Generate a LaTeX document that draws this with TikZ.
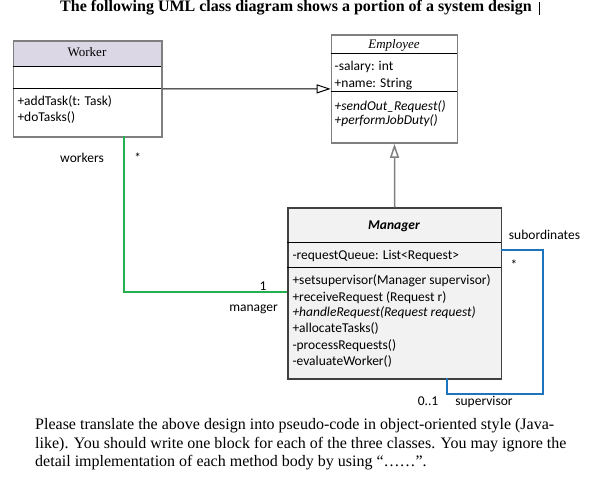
\documentclass[tikz,border=0pt]{standalone}
\usepackage{fontspec}
\setmainfont{Liberation Serif}
\newfontfamily\calfont{Carlito}
\usetikzlibrary{arrows.meta}
\definecolor{boxgray}{HTML}{7F7F7F}
\definecolor{lav}{HTML}{DCD7E4}
\definecolor{mgrfill}{HTML}{F2F2F2}
\definecolor{umlgreen}{HTML}{22B14C}
\definecolor{umlblue}{HTML}{1C75BC}
\definecolor{gengray}{HTML}{808080}
\begin{document}
\begin{tikzpicture}[x=1pt,y=-1pt,
  classbox/.style={draw=boxgray, line width=1.5pt, inner sep=0pt, anchor=north west},
  sepline/.style={draw=black, line width=1pt},
  mem/.style={font=\calfont\fontsize{13.5}{15}\selectfont, anchor=base west, inner sep=0pt},
  memit/.style={mem, font=\calfont\itshape\fontsize{13.5}{15}\selectfont},
  lbl/.style={font=\calfont\fontsize{13.5}{15}\selectfont, anchor=base, inner sep=0pt},
  serifhead/.style={font=\fontsize{13}{15}\selectfont, anchor=base, inner sep=0pt},
  para/.style={font=\fontsize{16}{18}\selectfont, anchor=base west, inner sep=0pt},
  genarrow/.style={-{Triangle[open,length=14pt,width=9pt,fill=white]}},
  greenline/.style={draw=umlgreen, line width=2pt},
  blueline/.style={draw=umlblue, line width=2pt}]
\useasboundingbox (0,0) rectangle (607,499);
\fill[white] (0,0) rectangle (607,499);

% title
\node[font=\bfseries\fontsize{16}{18}\selectfont, anchor=base, inner sep=0pt] (title) at (296,11) {The following UML class diagram shows a portion of a system design};
\draw[line width=0.8pt] (539,2) -- (539,14.5);

% Worker
\fill[lav] (12.7,40) rectangle (161,66.7);
\node[classbox, minimum width=148.3pt, minimum height=96pt] (worker) at (12.7,40) {};
\draw[sepline] (12.7,66.7) -- (161,66.7);
\draw[sepline] (12.7,88.3) -- (161,88.3);
\node[serifhead] (wname) at (87,56.5) {Worker};
\node[mem] (w1) at (17.3,105.5) {+addTask(t: Task)};
\node[mem] (w2) at (17.3,121.2) {+doTasks()};

% Employee
\node[classbox, minimum width=126pt, minimum height=108.3pt] (employee) at (330.7,34) {};
\draw[sepline] (330.7,53.3) -- (456.7,53.3);
\draw[sepline] (330.7,91.7) -- (456.7,91.7);
\node[serifhead, font=\itshape\fontsize{13}{15}\selectfont] (ename) at (394,48) {Employee};
\node[mem] (e1) at (334.5,70.5) {-salary: int};
\node[mem] (e2) at (334.5,87) {+name: String};
\node[memit] (e3) at (334.5,110) {+sendOut\_Request()};
\node[memit] (e4) at (334.5,124.5) {+performJobDuty()};

% Manager
\node[classbox, fill=mgrfill, draw=black!75, minimum width=213.4pt, minimum height=171pt] (manager) at (287.3,207.3) {};
\draw[sepline] (287.3,242.3) -- (500.7,242.3);
\draw[sepline] (287.3,267.7) -- (500.7,267.7);
\node[lbl, font=\calfont\bfseries\itshape\fontsize{13.5}{15}\selectfont] (mname) at (394,229.5) {Manager};
\node[mem] (m0) at (292.3,259.5) {-requestQueue: List<Request>};
\node[mem] (m1) at (292.3,284.5) {+setsupervisor(Manager supervisor)};
\node[mem] (m2) at (292.3,301) {+receiveRequest (Request r)};
\node[memit] (m3) at (292.3,316.7) {+handleRequest(Request request)};
\node[mem] (m4) at (292.3,332.4) {+allocateTasks()};
\node[mem] (m5) at (292.3,349.2) {-processRequests()};
\node[mem] (m6) at (292.3,365.6) {-evaluateWorker()};

% generalizations
\draw[genarrow, line width=1pt, black] (worker.east) -- (employee.west);
\draw[genarrow, line width=1.5pt, draw=gengray] (manager.north) -- (employee.south);

% Worker -- Manager association
\coordinate (g1) at (124,136);
\coordinate (g2) at (287.3,292.3);
\draw[greenline] (g1) |- (g2);
\node[lbl] (lw) at (82,162.5) {workers};
\node[lbl] (lws) at (137.7,162) {*};
\node[lbl] (l1) at (263,290.5) {1};
\node[lbl] (lm) at (253.5,311) {manager};

% Manager self association
\coordinate (b1) at (500.7,250);
\coordinate (b2) at (447.3,378.3);
\coordinate (b3) at (542.7,394);
\draw[blueline] (b1) -| (b3) -| (b2);
\node[lbl] (ls) at (544.5,239) {subordinates};
\node[lbl] (lss) at (514,269) {*};
\node[lbl] (l01) at (428,405.2) {0..1};
\node[lbl] (lsup) at (484,405.2) {supervisor};

% paragraph
\node[para] (p1) at (35,429.3) {Please translate the above design into pseudo-code in object-oriented style (Java-};
\node[para] (p2) at (35,448.3) {like). You should write one block for each of the three classes. You may ignore the};
\node[para] (p3) at (35,466) {detail implementation of each method body by using “……”.};
\end{tikzpicture}
\end{document}
